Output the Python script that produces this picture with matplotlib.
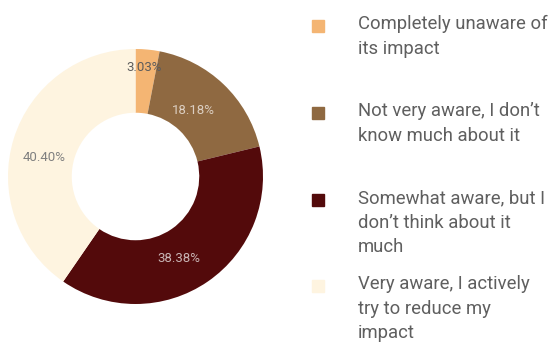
import numpy as np
import matplotlib.pyplot as plt
from matplotlib.patches import Rectangle

plt.rcParams['font.family'] = ['Roboto', 'DejaVu Sans']

# 调查结果（人数）
categories = [
    "Completely unaware of\nits impact",
    "Not very aware, I don\u2019t\nknow much about it",
    "Somewhat aware, but I\ndon\u2019t think about it\nmuch",
    "Very aware, I actively\ntry to reduce my\nimpact",
]
counts = [3, 18, 38, 40]
colors = ["#F4B573", "#8F6941", "#530A0B", "#FEF4E0"]
label_colors = ["#5c5c5c", "#DCCFC2", "#C9B5B5", "#808080"]
# 标签半径和角度微调（顺时针为正）
label_radius = [0.855, 0.69, 0.73, 0.735]
label_shift = [-1.0, -2.6, 6.5, -5.6]

fig = plt.figure(figsize=(5.5, 3.45), dpi=100)
ax = fig.add_axes([8 / 550, 1 - 304 / 345, 255 / 550, 255 / 345])

wedges, _ = ax.pie(counts, colors=colors, startangle=90, counterclock=False,
                   wedgeprops=dict(width=0.5, linewidth=0))
ax.set_xlim(-1, 1)
ax.set_ylim(-1, 1)
ax.set_aspect('equal')

# 百分比标签
total = sum(counts)
for w, c, lc, r, s in zip(wedges, counts, label_colors, label_radius, label_shift):
    ang = np.deg2rad((w.theta1 + w.theta2) / 2 - s)
    ax.text(r * np.cos(ang), r * np.sin(ang), f"{c / total * 100:.2f}%",
            ha='center', va='center', fontsize=9.5, color=lc)

# 图例
legend_y = [26, 113, 200, 286]
for y, col, txt in zip(legend_y, colors, categories):
    fig.patches.append(Rectangle((312 / 550, 1 - (y + 6) / 345), 12 / 550, 12 / 345,
                                 transform=fig.transFigure, color=col, figure=fig))
    fig.text(358 / 550, 1 - (y - 11) / 345, txt, ha='left', va='top',
             fontsize=13.3, color='#5f5f5f', linespacing=1.47)

fig.savefig("out.png", dpi=100)
